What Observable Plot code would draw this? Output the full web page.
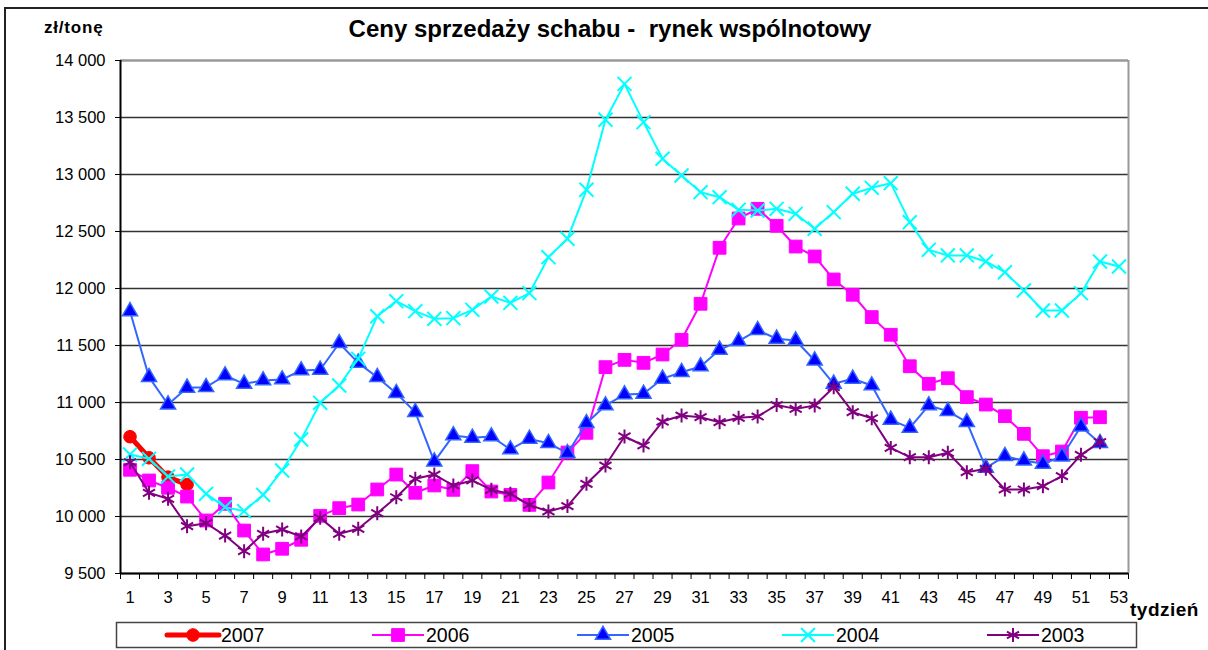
<!DOCTYPE html>
<html><head><meta charset="utf-8">
<script src="https://cdn.jsdelivr.net/npm/d3@7"></script>
<script src="https://cdn.jsdelivr.net/npm/@observablehq/plot@0.6"></script>
<style>
body{margin:0;background:#fff;overflow:hidden;font-family:"Liberation Sans",Arial,sans-serif}
#wrap{position:relative;width:1208px;height:650px;overflow:hidden;background:#fff}
#border{position:absolute;left:4px;top:7px;width:1300px;height:700px;border-left:2px solid #222;border-top:2px solid #222;pointer-events:none}
.t{position:absolute;font-weight:bold;color:#000;white-space:nowrap}
</style></head><body>
<div id="wrap">
<div id="chart" style="position:absolute;left:0;top:0"></div>
<div class="t" style="left:0;width:1220px;text-align:center;top:15px;font-size:24px">Ceny sprzedaży schabu -&nbsp; rynek wspólnotowy</div>
<div class="t" style="left:44px;top:18px;font-size:17px;letter-spacing:0.8px">zł/tonę</div>
<div class="t" style="left:1130px;top:599px;font-size:19px;letter-spacing:0.5px">tydzień</div>
<div id="legend" style="position:absolute;left:116px;top:622px"></div>
<div id="border"></div>
</div>
<script>
const years = ["2007", "2006", "2005", "2004", "2003"];
const v2007 = [10700, 10515, 10345, 10280];
const v2006 = [10410,10316,10252,10175,9965,10111,9877,9667,9717,9796,
  10006,10073,10105,10237,10368,10208,10272,10234,10398,10219,
  10190,10102,10298,10561,10734,11310,11374,11348,11421,11550,
  11866,12357,12614,12699,12550,12368,12281,12079,11945,11749,
  11594,11318,11164,11213,11047,10982,10880,10725,10529,10570,10866,10871];
const v2005 = [11800,11222,10982,11129,11134,11237,11164,11193,11202,11281,
  11287,11520,11348,11222,11082,10915,10482,10711,10690,10702,
  10588,10681,10643,10555,10818,10974,11070,11076,11208,11266,
  11316,11462,11538,11635,11559,11544,11368,11164,11208,11149,
  10848,10778,10974,10924,10827,10427,10529,10491,10462,10526,10789,10643];
const v2004 = [10544,10506,10351,10368,10199,10082,10047,10190,10404,10675,
  10997,11149,11383,11757,11889,11801,11734,11740,11813,11930,
  11874,11959,12275,12436,12866,13480,13795,13459,13138,12991,
  12845,12801,12690,12684,12699,12655,12524,12670,12831,12883,
  12924,12582,12339,12290,12290,12237,12143,11982,11807,11807,11959,12237,12193];
const v2003 = [10476,10208,10155,9915,9941,9833,9696,9848,9886,9825,
  9988,9848,9892,10029,10169,10331,10368,10272,10316,10234,
  10199,10102,10044,10091,10287,10447,10702,10623,10833,10886,
  10871,10827,10866,10877,10978,10944,10974,11134,10915,10862,
  10602,10520,10520,10559,10389,10418,10237,10237,10266,10354,10541,10652];
const yTicks = [9500,10000,10500,11000,11500,12000,12500,13000,13500,14000];
const xTickLabels = d3.range(1, 54, 2);

const seriesValues = [v2007, v2006, v2005, v2004, v2003];
const styles = {
  "2007": {line: "#FF0000", lw: 5, symbol: "circle", fill: "#FF0000", stroke: "#FF0000", r: 6.3, sw: 1},
  "2006": {line: "#FF00FF", lw: 2, symbol: "square", fill: "#FF00FF", stroke: "#FF00FF", r: 7.2, sw: 1},
  "2005": {line: "#3366FF", lw: 2, symbol: "triangle", fill: "#0000FF", stroke: "#3366FF", r: 5.6, sw: 1.5},
  "2004": {line: "#00FFFF", lw: 2, symbol: "times", fill: "none", stroke: "#00FFFF", r: 6.4, sw: 2},
  "2003": {line: "#800080", lw: 2, symbol: "asterisk", fill: "none", stroke: "#800080", r: 6.6, sw: 2}
};
const data = years.map((y, i) => seriesValues[i].map((v, j) => ({year: y, week: j + 1, value: v})));

const fmt = d => d3.format(",")(d).replace(",", " ");
const marks = [
  Plot.gridY(yTicks, {stroke: "#333", strokeOpacity: 1, strokeWidth: 1.5}),
  Plot.ruleY([14000], {stroke: "#999", strokeWidth: 2}),
  Plot.ruleX([53.5], {stroke: "#999", strokeWidth: 2}),
  Plot.ruleX([0.5], {stroke: "#000", strokeWidth: 2}),
  Plot.ruleY([9500], {stroke: "#000", strokeWidth: 2}),
  Plot.axisY(yTicks, {tickFormat: fmt, tickSize: 5, tickPadding: 10, label: null, fontSize: 16.5, stroke: "#000"}),
  Plot.axisX(d3.range(0.5, 54, 1), {tickFormat: () => "", tickSize: 6, label: null}),
  Plot.axisX(xTickLabels, {tickSize: 0, tickPadding: 18, label: null, fontSize: 16.5})
];
years.forEach((y, i) => {
  const s = styles[y];
  marks.push(Plot.line(data[i], {x: "week", y: "value", stroke: s.line, strokeWidth: s.lw}));
  marks.push(Plot.dot(data[i], {x: "week", y: "value", symbol: () => s.symbol, r: s.r,
    fill: s.fill, stroke: s.stroke, strokeWidth: s.sw}));
});

const chart = Plot.plot({
  width: 1208, height: 650,
  marginLeft: 120, marginRight: 80, marginTop: 60, marginBottom: 77,
  style: {fontFamily: "'Liberation Sans', Arial, sans-serif", fontSize: "16px", color: "#000", background: "transparent"},
  x: {type: "linear", domain: [0.5, 53.5], axis: null},
  y: {domain: [9500, 14000], axis: null},
  symbol: {type: "identity"},
  marks
});
document.getElementById("chart").append(chart);

// legend
const lw = 1021, lh = 26;
const svg = d3.create("svg").attr("width", lw).attr("height", lh)
  .style("font-family", "'Liberation Sans', Arial, sans-serif").style("overflow", "visible");
svg.append("rect").attr("x", 0.5).attr("y", 0.5).attr("width", lw - 1).attr("height", lh - 1)
  .attr("fill", "#fff").attr("stroke", "#444").attr("stroke-width", 1.5);
const symMap = {circle: d3.symbolCircle, square: d3.symbolSquare, triangle: d3.symbolTriangle, times: d3.symbolTimes, asterisk: d3.symbolAsterisk};
years.forEach((y, i) => {
  const s = styles[y];
  const x0 = 51 + i * 205, x1 = x0 + 52, cy = 13;
  const g = svg.append("g");
  g.append("line").attr("x1", x0).attr("x2", x1).attr("y1", cy).attr("y2", cy)
    .attr("stroke", s.line).attr("stroke-width", s.lw).attr("stroke-linecap", i === 0 ? "round" : "butt");
  g.append("path").attr("transform", `translate(${(x0 + x1) / 2},${cy})`)
    .attr("d", d3.symbol(symMap[s.symbol], Math.PI * s.r * s.r)())
    .attr("fill", s.fill).attr("stroke", s.stroke).attr("stroke-width", s.sw);
  g.append("text").attr("x", x1 + 2).attr("y", cy).attr("dy", "0.36em").attr("font-size", 19.5).text(y);
});
document.getElementById("legend").append(svg.node());
</script>
</body></html>
